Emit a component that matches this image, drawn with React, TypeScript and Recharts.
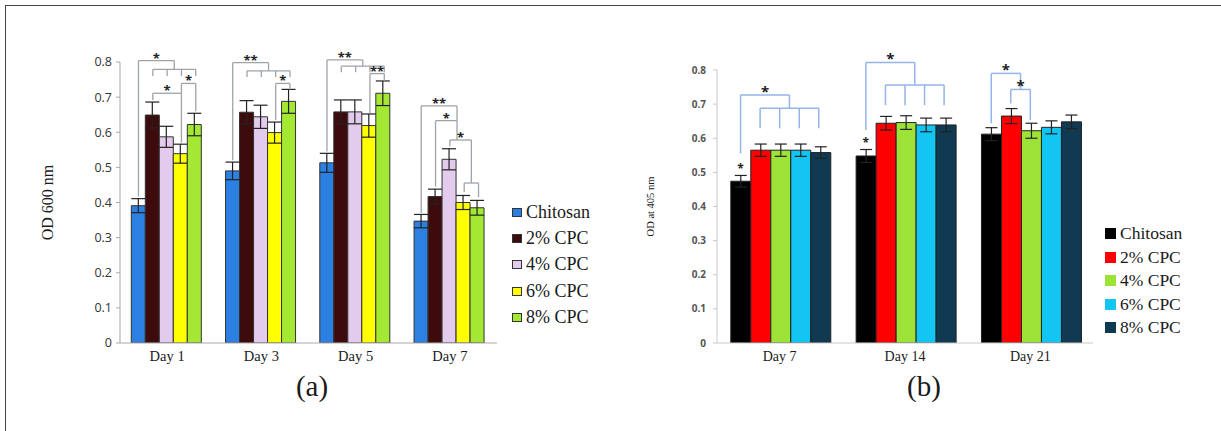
import React from 'react';
import { BarChart, Bar, XAxis, YAxis, ErrorBar, Legend, ReferenceLine, ReferenceDot, Label } from 'recharts';

// ---------- Chart (a) data ----------
const daysA = ['Day 1', 'Day 3', 'Day 5', 'Day 7'];
const namesA = ['Chitosan', '2% CPC', '4% CPC', '6% CPC', '8% CPC'];
const colorsA = ['#2B80E2', '#3E0B0C', '#E2CBEC', '#FFFF00', '#A5E834'];
const chitosanA = [0.391, 0.49, 0.513, 0.347];
const cpc2A = [0.649, 0.657, 0.658, 0.417];
const cpc4A = [0.587, 0.644, 0.658, 0.523];
const cpc6A = [0.539, 0.599, 0.619, 0.4];
const cpc8A = [0.622, 0.688, 0.711, 0.385];
const errChitosanA = [0.02, 0.025, 0.027, 0.019];
const err2A = [0.037, 0.033, 0.034, 0.021];
const err4A = [0.03, 0.033, 0.034, 0.03];
const err6A = [0.027, 0.03, 0.033, 0.02];
const err8A = [0.032, 0.034, 0.035, 0.021];
const ticksA = [0, 0.1, 0.2, 0.3, 0.4, 0.5, 0.6, 0.7, 0.8];

// brackets: group, from bar, to bar, level, left leg bottom, right leg bottom, label
const bracketsA = [
  { g: 0, from: 0, to: 2.5, level: 0.804, lb: 0.417, rb: 0.779, label: '*' },
  { g: 0, from: 1, to: 3, level: 0.711, lb: 0.692, rb: 0.57, label: '*' },
  { g: 0, from: 3, to: 4, level: 0.739, lb: 0.711, rb: 0.66, label: '*' },
  { g: 1, from: 0, to: 2.5, level: 0.798, lb: 0.52, rb: 0.775, label: '**' },
  { g: 1, from: 3, to: 4, level: 0.739, lb: 0.635, rb: 0.722, label: '*' },
  { g: 2, from: 0, to: 2.5, level: 0.806, lb: 0.545, rb: 0.788, label: '**' },
  { g: 2, from: 3, to: 4, level: 0.767, lb: 0.655, rb: 0.747, label: '**' },
  { g: 3, from: 0, to: 2.5, level: 0.675, lb: 0.37, rb: 0.633, label: '**' },
  { g: 3, from: 1, to: 2.5, level: 0.633, lb: 0.445, rb: 0.578, label: '*' },
  { g: 3, from: 2, to: 3.5, level: 0.578, lb: 0.56, rb: 0.4555, label: '*' },
  { g: 3, from: 3, to: 4, level: 0.4555, lb: 0.43, rb: 0.415, label: '' },
];
const combsA = [
  { g: 0, bars: [1, 2, 3, 4], level: 0.779, bottom: 0.76 },
  { g: 1, bars: [1, 2, 3, 4], level: 0.775, bottom: 0.757 },
  { g: 2, bars: [1, 2, 3, 4], level: 0.788, bottom: 0.771 },
];

// ---------- Chart (b) data ----------
const daysB = ['Day 7', 'Day 14', 'Day 21'];
const namesB = ['Chitosan', '2% CPC', '4% CPC', '6% CPC', '8% CPC'];
const colorsB = ['#000000', '#FF0000', '#9DE236', '#13C5F2', '#0F3A52'];
const chitosanB = [0.474, 0.548, 0.612];
const cpc2B = [0.565, 0.644, 0.665];
const cpc4B = [0.565, 0.646, 0.622];
const cpc6B = [0.565, 0.639, 0.632];
const cpc8B = [0.558, 0.639, 0.648];
const errChitosanB = [0.017, 0.019, 0.019];
const err2B = [0.018, 0.02, 0.022];
const err4B = [0.018, 0.02, 0.022];
const err6B = [0.018, 0.02, 0.019];
const err8B = [0.017, 0.02, 0.02];
const ticksB = [0, 0.1, 0.2, 0.3, 0.4, 0.5, 0.6, 0.7, 0.8];

const bracketsB = [
  { g: 0, from: 0, to: 2.5, level: 0.727, lb: 0.556, rb: 0.688, label: '*' },
  { g: 1, from: 0, to: 2.5, level: 0.822, lb: 0.624, rb: 0.756, label: '*' },
  { g: 2, from: 0, to: 1.5, level: 0.79, lb: 0.644, rb: 0.743, label: '*' },
  { g: 2, from: 1, to: 2, level: 0.743, lb: 0.702, rb: 0.653, label: '*' },
];
const combsB = [
  { g: 0, bars: [1, 2, 3, 4], level: 0.688, bottom: 0.629 },
  { g: 1, bars: [1, 2, 3, 4], level: 0.756, bottom: 0.697 },
];
const singleStarsB = [
  { g: 0, bar: 0, level: 0.51 },
  { g: 1, bar: 0, level: 0.585 },
];

const SERIF = '"Liberation Serif", "Times New Roman", serif';
const SANS = '"Open Sans", "Liberation Sans", sans-serif';

const FRAC_A = 0.152;
const FRAC_B = 0.156;
const bx = (g: number, b: number, frac: number) => g + 0.5 + (b - 2) * frac;

const seg = (key: string, x1: number, y1: number, x2: number, y2: number, color: string, w: number) => (
  <ReferenceLine
    key={key}
    xAxisId="n"
    ifOverflow="visible"
    stroke={color}
    strokeWidth={w}
    segment={[{ x: x1, y: y1 }, { x: x2, y: y2 }]}
  />
);

const star = (key: string, x: number, y: number, label: string, size: number, color: string, dy: number) => (
  <ReferenceDot
    key={key}
    xAxisId="n"
    x={x}
    y={y}
    r={0}
    ifOverflow="visible"
    shape={(p: any) => (
      <text x={p.cx} y={p.cy + dy} textAnchor="middle" fontSize={size} fontWeight="bold" fill={color} fontFamily={SANS}>
        {label}
      </text>
    )}
  />
);

function annotations(brackets: any[], combs: any[], frac: number, color: string, w: number, starColor: string, starSize: number, prefix: string) {
  const out: any[] = [];
  brackets.forEach((b, i) => {
    const x1 = bx(b.g, b.from, frac);
    const x2 = bx(b.g, b.to, frac);
    out.push(seg(`${prefix}a${i}`, x1, b.lb, x1, b.level, color, w));
    out.push(seg(`${prefix}b${i}`, x1, b.level, x2, b.level, color, w));
    out.push(seg(`${prefix}c${i}`, x2, b.level, x2, b.rb, color, w));
    if (b.label) out.push(star(`${prefix}s${i}`, (x1 + x2) / 2, b.level, b.label, starSize, starColor, 2));
  });
  combs.forEach((c, i) => {
    const xs = c.bars.map((k: number) => bx(c.g, k, frac));
    out.push(seg(`${prefix}h${i}`, xs[0], c.level, xs[xs.length - 1], c.level, color, w));
    xs.forEach((x: number, j: number) => out.push(seg(`${prefix}t${i}_${j}`, x, c.level, x, c.bottom, color, w)));
  });
  return out;
}

function buildRows(days: string[], vals: number[][], errs: number[][]) {
  return days.map((d, gi) => {
    const row: any = { day: d, pos: gi + 0.5 };
    vals.forEach((v, si) => {
      row[`v${si}`] = v[gi];
      row[`e${si}`] = errs[si][gi];
    });
    return row;
  });
}

const dataA = buildRows(daysA, [chitosanA, cpc2A, cpc4A, cpc6A, cpc8A], [errChitosanA, err2A, err4A, err6A, err8A]);
const dataB = buildRows(daysB, [chitosanB, cpc2B, cpc4B, cpc6B, cpc8B], [errChitosanB, err2B, err4B, err6B, err8B]);

const sortPayload = (payload: any[], names: string[]) =>
  [...(payload || [])].sort((a, b) => names.indexOf(a.value) - names.indexOf(b.value));

const legendA = (props: any) => (
  <div style={{ fontFamily: SERIF, fontSize: 18, color: '#1a1a1a' }}>
    {sortPayload(props.payload, namesA).map((p: any, i: number) => (
      <div key={i} style={{ height: 26.3, display: 'flex', alignItems: 'center', whiteSpace: 'nowrap' }}>
        <span style={{ display: 'inline-block', width: 8, height: 7, background: p.color, border: '1px solid #333', marginRight: 4 }} />
        <span>{p.value}</span>
      </div>
    ))}
  </div>
);

const legendB = (props: any) => (
  <div style={{ fontFamily: SERIF, fontSize: 17.5, color: '#1a1a1a' }}>
    {sortPayload(props.payload, namesB).map((p: any, i: number) => (
      <div key={i} style={{ height: 23.5, display: 'flex', alignItems: 'center', whiteSpace: 'nowrap' }}>
        <span style={{ display: 'inline-block', width: 11, height: 11, background: p.color, marginRight: 4 }} />
        <span>{p.value}</span>
      </div>
    ))}
  </div>
);

const yLabel = (text: string, size: number, dx: number) => (props: any) => {
  const vb = props.viewBox || { x: 0, y: 0, width: 0, height: 0 };
  const cx = vb.x + dx;
  const cy = vb.y + vb.height / 2;
  return (
    <text x={cx} y={cy} transform={`rotate(-90 ${cx} ${cy})`} textAnchor="middle" dominantBaseline="central" fontFamily={SERIF} fontSize={size} fill="#1a1a1a">
      {text}
    </text>
  );
};

export default function App() {
  return (
    <div style={{ position: 'absolute', left: 0, top: 0, width: 1221, height: 431, background: '#fff', overflow: 'hidden' }}>
      <div style={{ position: 'absolute', left: 5, top: 5, width: 1216, height: 426, borderTop: '1.5px solid #444', borderLeft: '1.5px solid #444', boxSizing: 'border-box' }} />

      <div style={{ position: 'absolute', left: 0, top: 0 }}>
        <BarChart width={600} height={431} data={dataA} margin={{ top: 62, right: 103, bottom: 58, left: 42 }} barCategoryGap="12%" barGap={0}>
          <XAxis dataKey="day" height={30} tickLine={false} tickSize={6} tickMargin={2} axisLine={{ stroke: '#a9a9a9' }} tick={{ fontFamily: SERIF, fontSize: 14.5, fill: '#1a1a1a' }} />
          <XAxis xAxisId="n" dataKey="pos" type="number" domain={[0, 4]} allowDataOverflow hide />
          <YAxis width={78} domain={[0, 0.8]} ticks={ticksA} allowDataOverflow tickSize={4} tickMargin={4} axisLine={{ stroke: '#a9a9a9' }} tickLine={{ stroke: '#a9a9a9' }} tick={{ fontFamily: SANS, fontSize: 12.5, fill: '#333' }}>
            <Label content={yLabel('OD 600 nm', 16, 5)} />
          </YAxis>
          {namesA.map((n, i) => (
            <Bar key={n} dataKey={`v${i}`} name={n} fill={colorsA[i]} stroke="#333" strokeWidth={1} isAnimationActive={false}>
              <ErrorBar dataKey={`e${i}`} width={7} stroke="#222" strokeWidth={1.2} direction="y" isAnimationActive={false} />
            </Bar>
          ))}
          {annotations(bracketsA, combsA, FRAC_A, '#9ea3a8', 1.3, '#222', 13, 'a')}
          <Legend layout="vertical" align="center" verticalAlign="middle" wrapperStyle={{ left: 512, top: 199, width: 'auto', height: 'auto' }} content={legendA} />
        </BarChart>
      </div>

      <div style={{ position: 'absolute', left: 600, top: 0 }}>
        <BarChart width={621} height={431} data={dataB} margin={{ top: 70, right: 128, bottom: 58, left: 45 }} barCategoryGap="11%" barGap={0}>
          <XAxis dataKey="day" height={30} tickLine={false} tickSize={6} tickMargin={2} axisLine={{ stroke: '#c9c9c9' }} tick={{ fontFamily: SERIF, fontSize: 14, fill: '#1a1a1a' }} />
          <XAxis xAxisId="n" dataKey="pos" type="number" domain={[0, 3]} allowDataOverflow hide />
          <YAxis width={72} domain={[0, 0.8]} ticks={ticksB} allowDataOverflow tickSize={4} tickMargin={7} axisLine={{ stroke: '#c9c9c9' }} tickLine={{ stroke: '#c9c9c9' }} tick={{ fontFamily: SANS, fontSize: 10, fontWeight: 700, fill: '#555' }}>
            <Label content={yLabel('OD at 405 nm', 10.5, 5)} />
          </YAxis>
          {namesB.map((n, i) => (
            <Bar key={n} dataKey={`v${i}`} name={n} fill={colorsB[i]} stroke="#222" strokeWidth={1} isAnimationActive={false}>
              <ErrorBar dataKey={`e${i}`} width={6} stroke="#222" strokeWidth={1.2} direction="y" isAnimationActive={false} />
            </Bar>
          ))}
          {annotations(bracketsB, combsB, FRAC_B, '#93b5e8', 1.5, '#222', 15, 'b')}
          {singleStarsB.map((s, i) => star(`bs${i}`, bx(s.g, s.bar, FRAC_B), s.level, '*', 12, '#222', 4))}
          <Legend layout="vertical" align="center" verticalAlign="middle" wrapperStyle={{ left: 505, top: 222, width: 'auto', height: 'auto' }} content={legendB} />
        </BarChart>
      </div>

      <div style={{ position: 'absolute', left: 312, top: 386, transform: 'translate(-50%, -50%)', fontFamily: SERIF, fontSize: 29, color: '#1a1a1a', lineHeight: 1 }}>(a)</div>
      <div style={{ position: 'absolute', left: 924, top: 386, transform: 'translate(-50%, -50%)', fontFamily: SERIF, fontSize: 29, color: '#1a1a1a', lineHeight: 1 }}>(b)</div>
    </div>
  );
}
